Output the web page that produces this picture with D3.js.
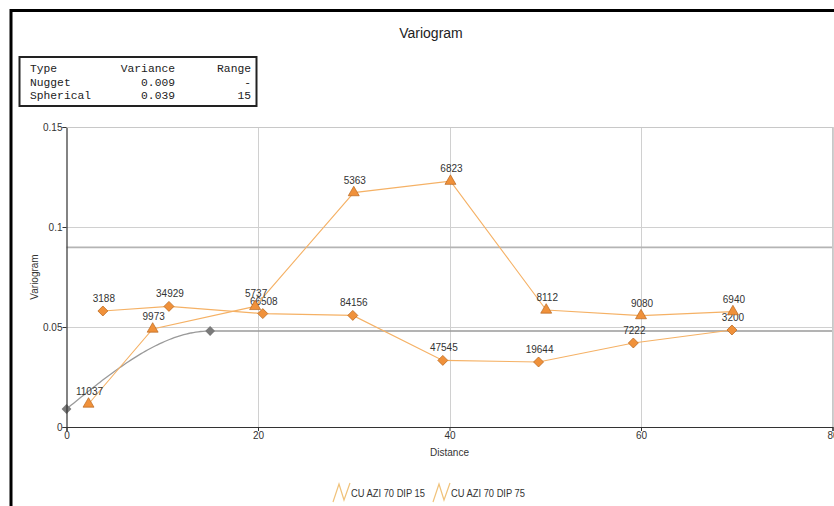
<!DOCTYPE html>
<html><head><meta charset="utf-8">
<script src="https://cdn.jsdelivr.net/npm/d3@7"></script>
<style>
html,body{margin:0;padding:0;background:#fff;overflow:hidden}
svg{display:block}
</style></head>
<body>
<svg id="c" width="834" height="506"></svg>
<script>
// ---- data ----
const seriesNames = ["CU AZI 70 DIP 15", "CU AZI 70 DIP 75"];
const triDist  = [2.3, 9.0, 19.7, 30.0, 40.1, 50.1, 60.0, 69.6];
const triGamma = [0.0115, 0.049, 0.0603, 0.1172, 0.1229, 0.0585, 0.0557, 0.0577];
const triPairs = [11037, 9973, 5737, 5363, 6823, 8112, 9080, 6940];
const diaDist  = [3.8, 10.7, 20.5, 29.9, 39.3, 49.3, 59.2, 69.5];
const diaGamma = [0.058, 0.0603, 0.0567, 0.0558, 0.0333, 0.0325, 0.042, 0.0485];
const diaPairs = [3188, 34929, 66508, 84156, 47545, 19644, 7222, 3200];
const modelTypes = ["Nugget", "Spherical"];
const modelVariance = [0.009, 0.039];
const modelRange = [null, 15];
const sampleVariance = [0.0898];
const xTicks = [0, 20, 40, 60, 80];
const yTicks = [0, 0.05, 0.1, 0.15];

const svg = d3.select("#c");
const font = "'Liberation Sans', Arial, sans-serif";
const mono = "'Liberation Mono', 'Courier New', monospace";

const L = 66.5, R = 832.5, T = 127, B = 427;
const x = d3.scaleLinear().domain([0, 80]).range([L, R]);
const y = d3.scaleLinear().domain([0, 0.15]).range([B, T]);

// outer frame (top/left visible)
svg.append("rect").attr("x", 10).attr("y", 9).attr("width", 830).attr("height", 3).attr("fill", "#000");
svg.append("rect").attr("x", 9.5).attr("y", 9).attr("width", 3).attr("height", 500).attr("fill", "#000");

// title
svg.append("text").attr("x", 431).attr("y", 38).attr("text-anchor", "middle")
  .attr("font-family", font).attr("font-size", 14).attr("fill", "#222").text("Variogram");

// model table
const tb = svg.append("g");
tb.append("rect").attr("x", 19.5).attr("y", 57).attr("width", 237).attr("height", 49)
  .attr("fill", "#fff").attr("stroke", "#222").attr("stroke-width", 2);
const rows = [["Type", "Variance", "Range"]].concat(modelTypes.map((t, i) => [t, modelVariance[i].toFixed(3), modelRange[i] == null ? "-" : String(modelRange[i])]));
rows.forEach((r, i) => {
  const yy = 72 + i * 13.5;
  tb.append("text").attr("x", 30).attr("y", yy).attr("font-family", mono).attr("font-size", 11.3).attr("fill", "#222").text(r[0]);
  tb.append("text").attr("x", 175).attr("y", yy).attr("text-anchor", "end").attr("font-family", mono).attr("font-size", 11.3).attr("fill", "#222").text(r[1]);
  tb.append("text").attr("x", 251).attr("y", yy).attr("text-anchor", "end").attr("font-family", mono).attr("font-size", 11.3).attr("fill", "#222").text(r[2]);
});

// grid
const g = svg.append("g");
g.selectAll(".vg").data(xTicks.filter(d => d > 0)).join("line")
  .attr("x1", d => Math.round(x(d)) + 0.5).attr("x2", d => Math.round(x(d)) + 0.5)
  .attr("y1", T).attr("y2", B).attr("stroke", "#d0d0d0").attr("stroke-width", 1);
g.selectAll(".hg").data(yTicks.filter(d => d > 0)).join("line")
  .attr("x1", L).attr("x2", R)
  .attr("y1", d => Math.round(y(d)) + 0.5).attr("y2", d => Math.round(y(d)) + 0.5)
  .attr("stroke", "#d0d0d0").attr("stroke-width", 1);

// sample variance line
g.selectAll(".sv").data(sampleVariance).join("line")
  .attr("x1", L).attr("x2", R).attr("y1", d => y(d)).attr("y2", d => y(d))
  .attr("stroke", "#b4b4b4").attr("stroke-width", 1.6);

// model curve (spherical model from table parameters)
const nug = modelVariance[0], c = modelVariance[1], a = modelRange[1];
const modelAt = h => h >= a ? nug + c : nug + c * (1.5 * h / a - 0.5 * Math.pow(h / a, 3));
const hs = d3.range(0, a + 0.001, 0.25).concat([80]);
svg.append("path").datum(hs)
  .attr("d", d3.line().x(h => x(h)).y(h => y(modelAt(h))))
  .attr("fill", "none").attr("stroke", "#9a9a9a").attr("stroke-width", 1.3);
svg.selectAll(".md").data([0, a]).join("path")
  .attr("transform", h => `translate(${x(h)},${y(modelAt(h))}) rotate(45)`)
  .attr("d", d3.symbol(d3.symbolSquare, 48)())
  .attr("fill", "#7a7a7a");

// axes
const xa = svg.append("g").attr("transform", `translate(0,${B})`)
  .call(d3.axisBottom(x).tickValues(xTicks).tickSize(4).tickFormat(d3.format("d")));
const ya = svg.append("g").attr("transform", `translate(${L},0)`)
  .call(d3.axisLeft(y).tickValues(yTicks).tickSize(4).tickFormat(d => d === 0 ? "0" : String(d)));
[xa, ya].forEach(ax => {
  ax.select(".domain").attr("stroke", "#333").attr("stroke-width", 1.2);
  ax.selectAll(".tick line").attr("stroke", "#333");
  ax.selectAll("text").attr("font-family", font).attr("font-size", 10).attr("fill", "#333");
});
xa.selectAll(".tick text").attr("dy", "0.9em").attr("y", 3);
ya.selectAll(".tick text").attr("x", -4);
// plot border top/right
svg.append("line").attr("x1", L).attr("x2", R).attr("y1", T + 0.5).attr("y2", T + 0.5).attr("stroke", "#c8c8c8");
svg.append("line").attr("x1", R).attr("x2", R).attr("y1", T).attr("y2", B).attr("stroke", "#c8c8c8");

svg.append("text").attr("x", (L + R) / 2).attr("y", 456).attr("text-anchor", "middle")
  .attr("font-family", font).attr("font-size", 10).attr("fill", "#333").text("Distance");
svg.append("text").attr("transform", `translate(38,${(T + B) / 2}) rotate(-90)`).attr("text-anchor", "middle")
  .attr("font-family", font).attr("font-size", 10).attr("fill", "#333").text("Variogram");

// series
const lineColor = "#f5b165", fillColor = "#f0913a", strokeColor = "#b8661e";
function drawSeries(dist, gamma, pairs, sym, size, rot) {
  const pts = dist.map((d, i) => ({ d, g: gamma[i], n: pairs[i] }));
  svg.append("path").datum(pts)
    .attr("d", d3.line().x(p => x(p.d)).y(p => y(p.g)))
    .attr("fill", "none").attr("stroke", lineColor).attr("stroke-width", 1.1);
  svg.selectAll(null).data(pts).join("path")
    .attr("transform", p => `translate(${x(p.d)},${y(p.g)}) rotate(${rot})`)
    .attr("d", d3.symbol(sym, size)())
    .attr("fill", fillColor).attr("stroke", strokeColor).attr("stroke-width", 0.7);
  svg.selectAll(null).data(pts).join("text")
    .attr("x", p => x(p.d) + 1).attr("y", p => y(p.g) - 9)
    .attr("text-anchor", "middle").attr("font-family", font).attr("font-size", 10)
    .attr("fill", "#333").text(p => p.n);
}
drawSeries(diaDist, diaGamma, diaPairs, d3.symbolSquare, 50, 45);
drawSeries(triDist, triGamma, triPairs, d3.symbolTriangle, 52, 0);

// legend
const lg = svg.append("g");
const legX = [333, 433];
seriesNames.forEach((n, i) => {
  const gx = legX[i];
  lg.append("path").attr("d", `M${gx},502 L${gx + 6},484 L${gx + 11},500 L${gx + 17},483`)
    .attr("fill", "none").attr("stroke", "#f0c27a").attr("stroke-width", 1.2);
  lg.append("text").attr("x", gx + 18).attr("y", 497).attr("font-family", font).attr("font-size", 11)
    .attr("textLength", 74).attr("lengthAdjust", "spacingAndGlyphs")
    .attr("fill", "#333").text(n);
});
</script>
</body></html>
